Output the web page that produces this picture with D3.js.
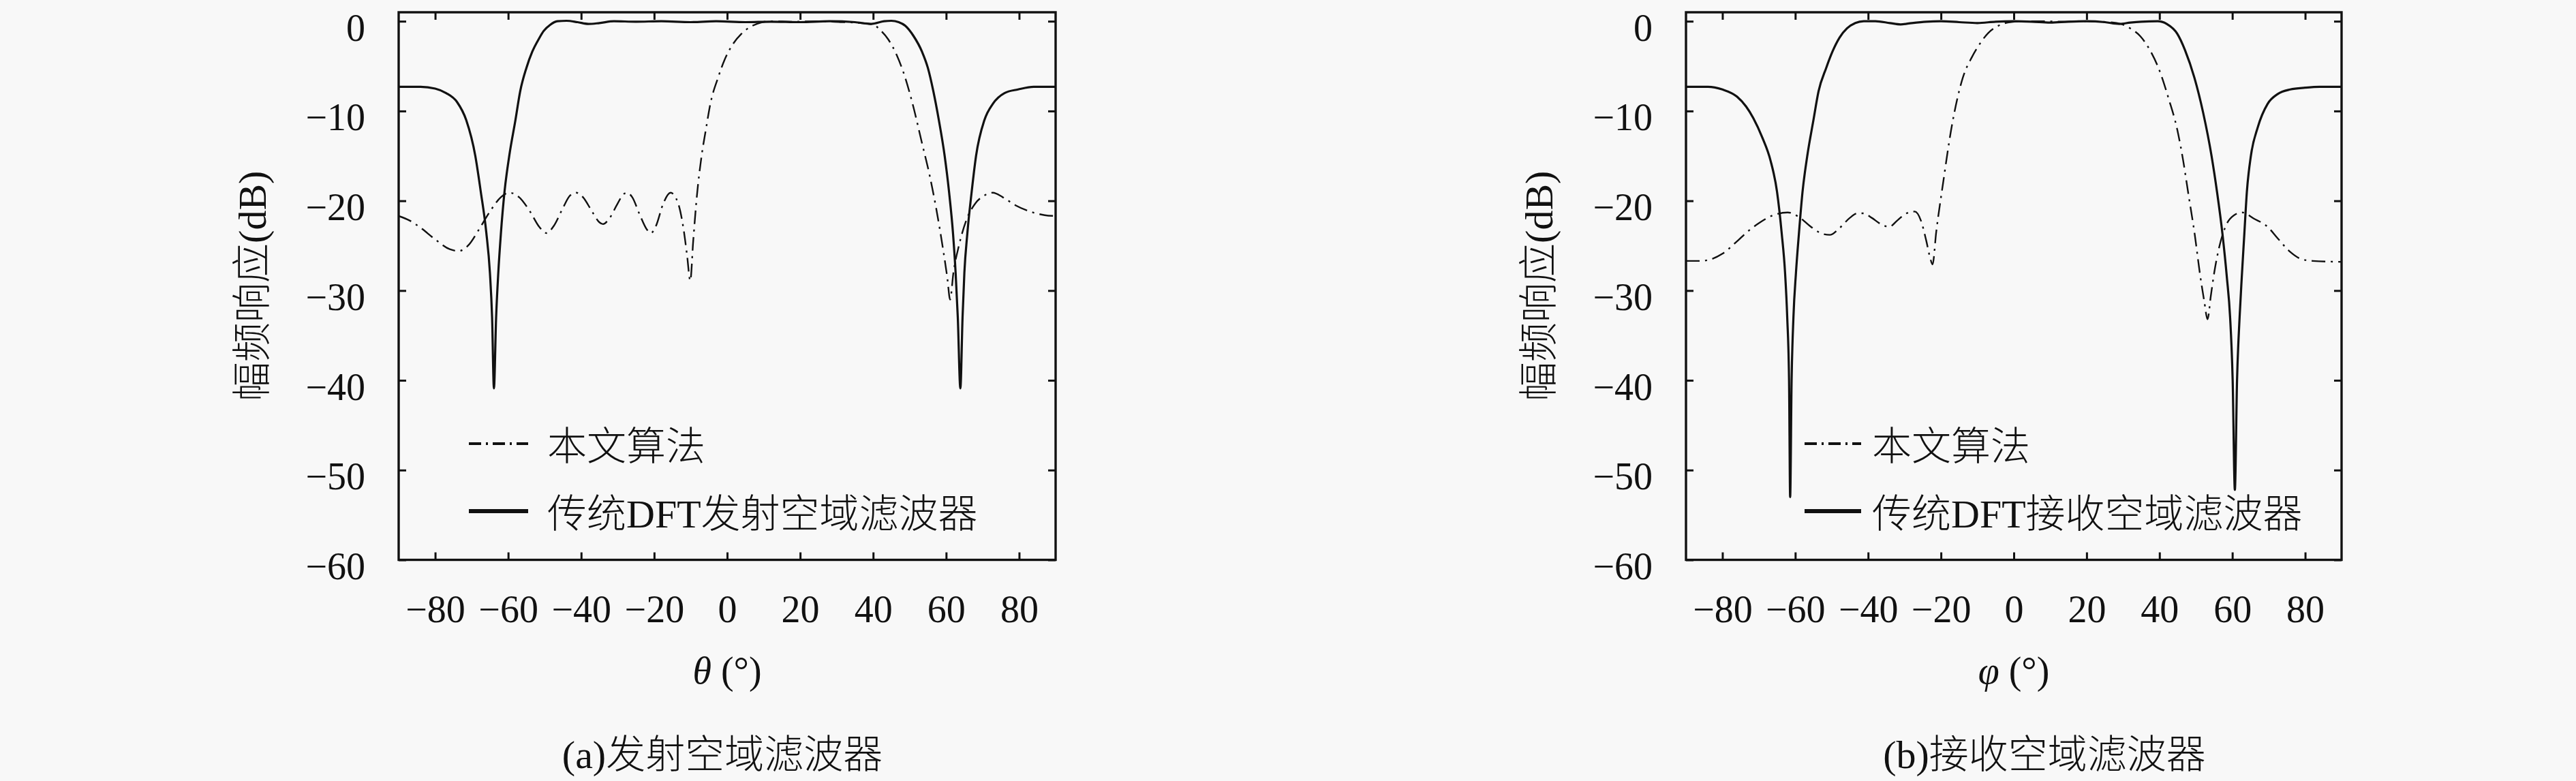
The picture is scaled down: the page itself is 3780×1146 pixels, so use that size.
<!DOCTYPE html>
<html>
<head>
<meta charset="utf-8">
<script src="https://cdn.jsdelivr.net/npm/d3@7/dist/d3.min.js"></script>
<style type="text/css">
    body{ margin: 0; background: #f8f8f8; }
    svg{ display: block; background: #f8f8f8; }
    text{ fill: #111; }
    .tick text{ font-family: "Liberation Serif", serif; font-size: 56px; }
    .tick line{ stroke: #111; stroke-width: 3; }
    .cjk{ font-family: "Liberation Serif", "Noto Sans CJK SC", serif; font-size: 58px; font-weight: 300; }
    .axt{ font-family: "Liberation Serif", serif; font-size: 56px; }
</style>
</head>
<body>
<script type="text/javascript">
var width = 3780,
    height = 1146;

var xTicks = [-80, -60, -40, -20, 0, 20, 40, 60, 80];
var yTicks = [0, -10, -20, -30, -40, -50, -60];

// (a) transmit filter: [angle, dB]
var txProposed = [
    [-90,-21.7],[-87,-22.2],[-84,-23.0],[-80,-24.3],[-76,-25.4],[-73.6,-25.6],[-71,-25.0],[-68,-23.2],
    [-65,-21.2],[-62,-19.6],[-59.7,-19.1],[-57,-19.6],[-54,-21.2],[-51.5,-22.9],[-49.5,-23.6],[-47.5,-22.8],
    [-45,-20.8],[-43,-19.4],[-41.3,-19.1],[-39.5,-19.6],[-37,-21.2],[-35,-22.4],[-34,-22.6],[-32.5,-22.1],
    [-30,-20.3],[-28.5,-19.3],[-27.4,-19.1],[-26,-19.6],[-24,-21.5],[-22,-23.2],[-20.9,-23.6],[-19.5,-22.8],
    [-17.5,-20.3],[-15.5,-19.1],[-13.5,-20.2],[-12,-23],[-11,-26],[-10.1,-28.9],[-9.3,-24.5],[-8.3,-19.5],
    [-7,-15],[-5.8,-12],[-4.6,-9.2],[-2.5,-6.3],[-0.7,-4.3],[1.5,-2.6],[3.9,-1.4],[6.5,-0.6],[9.3,-0.15],
    [12,0],[18,-0.05],[25,0],[31,-0.1],[35,-0.15],[38,-0.25],[40.2,-0.4],[42,-1.0],[44.1,-2.0],[46.5,-3.8],
    [48.8,-6.3],[51,-9.5],[53.4,-13.6],[55.5,-17.2],[57.3,-20.9],[59.2,-25.5],[60.3,-28.5],[61.1,-31.0],
    [62,-28],[63.5,-25],[65.5,-22.2],[68,-20.3],[70.5,-19.4],[72.8,-19.1],[75.5,-19.6],[79,-20.5],
    [83,-21.2],[87,-21.6],[90,-21.7]
];
var txDft = [
    [-90,-7.3],[-84,-7.3],[-80,-7.5],[-77,-8.0],[-74,-9.0],[-71.5,-11],[-69,-15],[-67.5,-19],[-66,-23.5],
    [-65,-28],[-64.4,-33],[-63.9,-40.9],[-63.3,-33],[-62.7,-28],[-62,-23.7],[-61,-19],[-59.7,-15],[-58,-11],
    [-56.7,-7.8],[-55,-5.2],[-53.4,-3.4],[-51.5,-1.9],[-50.3,-1.1],[-48.5,-0.4],[-46.5,0],[-44,0.05],
    [-41,-0.1],[-38,-0.3],[-35,-0.2],[-31,0],[-25,-0.05],[-18,0],[-10,-0.1],[-3,0],[5,-0.1],[12,-0.05],
    [20,-0.1],[28,0],[35,-0.1],[39.5,-0.3],[43,0],[45,0.05],[47,-0.1],[48.8,-0.5],[51,-1.6],[53.4,-3.4],
    [55,-5.2],[56.5,-7.8],[58,-11],[59.6,-15],[60.8,-19],[61.9,-23.7],[62.6,-28],[63.2,-33],[63.9,-40.9],
    [64.5,-33],[65,-28],[65.8,-23.7],[67,-19],[68.2,-15],[70.5,-11],[72.8,-9.2],[76,-8.0],[79.7,-7.6],
    [84,-7.3],[90,-7.3]
];

// (b) receive filter: [angle, dB]
var rxProposed = [
    [-90,-26.7],[-86,-26.7],[-83.9,-26.6],[-80,-25.9],[-76.2,-24.6],[-73,-23.4],[-70,-22.5],[-66,-21.6],
    [-62.1,-21.3],[-59,-21.8],[-56,-22.8],[-53,-23.6],[-50.5,-23.8],[-48,-23.1],[-45,-21.9],[-43,-21.4],
    [-41.2,-21.4],[-39,-21.9],[-36.5,-22.6],[-34.2,-22.9],[-32,-22.2],[-29.5,-21.4],[-27.2,-21.2],
    [-25.5,-22.2],[-24,-24.5],[-23,-26.3],[-22.3,-27.1],[-21.3,-23.5],[-19.4,-18.0],[-17.2,-12.1],
    [-14,-6.3],[-11.5,-4.0],[-9.3,-2.5],[-7,-1.3],[-4.7,-0.6],[-1.7,-0.15],[2,0],[8,0],[14,-0.05],[20,0],
    [26,-0.1],[29.4,-0.3],[32,-0.8],[34.8,-1.7],[37.5,-3.3],[40.2,-5.7],[42.5,-8.6],[44.9,-12.1],
    [46.5,-15.5],[48,-19.4],[49.7,-23.8],[51.1,-28.1],[52.3,-31.2],[53.2,-33.2],[54.1,-30.6],[55,-28.1],
    [56.5,-25.0],[58.1,-22.9],[60.5,-21.6],[62.7,-21.3],[66,-22.0],[69.7,-22.9],[72.5,-24.2],[75.9,-25.7],
    [79,-26.5],[82.1,-26.7],[90,-26.8]
];
var rxDft = [
    [-90,-7.3],[-84,-7.3],[-80,-7.6],[-76,-8.4],[-73.5,-9.5],[-71.5,-10.8],[-69,-13],[-66.8,-15.5],
    [-65,-19],[-63.7,-23.7],[-62.8,-28],[-62.2,-33],[-61.7,-40],[-61.4,-53],[-61.0,-40],[-60.5,-33],
    [-59.8,-28],[-59.0,-23.7],[-58,-19],[-56.7,-15],[-55,-11],[-53.6,-7.8],[-51.5,-5.2],[-49.8,-3.4],
    [-47.8,-1.8],[-45.8,-0.8],[-43.5,-0.2],[-41.2,0],[-38,0],[-34,-0.2],[-31.1,-0.35],[-28,-0.2],
    [-24,-0.05],[-20,0],[-15,-0.1],[-10,-0.2],[-5,-0.05],[0,0],[5,-0.05],[10,-0.15],[15,-0.05],[20,0],
    [25,-0.1],[29,-0.3],[32,-0.15],[35,-0.05],[39.5,0],[42,-0.3],[44.9,-1.4],[47,-3.2],[49.6,-6.3],
    [52,-10.2],[54.3,-15],[55.8,-19],[57.3,-23.7],[58.5,-28.5],[59.4,-33],[60.1,-40],[60.7,-52.2],
    [61.3,-40],[62,-33],[62.6,-28.5],[63.3,-23.7],[64,-19],[65.1,-15],[67,-11.8],[69.7,-9.2],[72.5,-8.1],
    [75.9,-7.6],[80,-7.4],[84,-7.3],[90,-7.3]
];

var seriesNames = ['本文算法', '传统DFT发射空域滤波器', '传统DFT接收空域滤波器'];
var yLabel = '幅频响应(dB)';

var panels = [
    { left: 585, right: 1549, proposed: txProposed, dft: txDft, dftName: seriesNames[1],
      xVar: 'θ', caption: '(a)发射空域滤波器', captionX: 1060, labelX: 370, legendX: 688, legendW: 87, legendGap: 28 },
    { left: 2474, right: 3436, proposed: rxProposed, dft: rxDft, dftName: seriesNames[2],
      xVar: 'φ', caption: '(b)接收空域滤波器', captionX: 3000, labelX: 2258, legendX: 2648, legendW: 83, legendGap: 16 }
];

var plotTop = 18, plotBottom = 821.5;

var svg = d3.select('body')
    .append('svg')
        .attr('width', width)
        .attr('height', height);

panels.forEach(function(p){
    var x = d3.scaleLinear().domain([-90, 90]).range([p.left, p.right]);
    var y = d3.scaleLinear().domain([-60, 1]).range([plotBottom, plotTop]);
    var g = svg.append('g');

    // axes, ticks pointing inward
    g.append('g')
        .attr('transform', 'translate(0,' + plotBottom + ')')
        .call(d3.axisBottom(x).tickValues(xTicks).tickSize(-11).tickSizeOuter(0).tickPadding(52))
        .call(function(a){ a.select('.domain').remove(); })
        .selectAll('text').attr('dy', '0.71em');
    g.append('g')
        .attr('transform', 'translate(0,' + plotTop + ')')
        .call(d3.axisTop(x).tickValues(xTicks).tickSize(-11).tickSizeOuter(0).tickFormat(''))
        .call(function(a){ a.select('.domain').remove(); });
    g.append('g')
        .attr('transform', 'translate(' + p.left + ',0)')
        .call(d3.axisLeft(y).tickValues(yTicks).tickSize(-11).tickSizeOuter(0).tickPadding(49))
        .call(function(a){ a.select('.domain').remove(); })
        .selectAll('text').attr('dy', '0.5em');
    g.append('g')
        .attr('transform', 'translate(' + p.right + ',0)')
        .call(d3.axisRight(y).tickValues(yTicks).tickSize(-11).tickSizeOuter(0).tickFormat(''))
        .call(function(a){ a.select('.domain').remove(); });

    var line = d3.line()
        .x(function(d){ return x(d[0]); })
        .y(function(d){ return y(d[1]); })
        .curve(d3.curveMonotoneX);

    g.append('path')
        .datum(p.dft)
        .attr('d', line)
        .attr('fill', 'none')
        .attr('stroke', '#111')
        .attr('stroke-width', 3.2);
    g.append('path')
        .datum(p.proposed)
        .attr('d', line)
        .attr('fill', 'none')
        .attr('stroke', '#111')
        .attr('stroke-width', 2.4)
        .attr('stroke-dasharray', '20,8,3,8');

    // frame
    g.append('rect')
        .attr('x', p.left)
        .attr('y', plotTop)
        .attr('width', p.right - p.left)
        .attr('height', plotBottom - plotTop)
        .attr('fill', 'none')
        .attr('stroke', '#111')
        .attr('stroke-width', 3.4);

    // legend
    var legend = [
        { name: seriesNames[0], y: 651, dash: '18,7,3,7', w: 4 },
        { name: p.dftName, y: 750, dash: null, w: 6 }
    ];
    legend.forEach(function(l){
        g.append('line')
            .attr('x1', p.legendX)
            .attr('x2', p.legendX + p.legendW)
            .attr('y1', l.y)
            .attr('y2', l.y)
            .attr('stroke', '#111')
            .attr('stroke-width', l.w)
            .attr('stroke-dasharray', l.dash);
        g.append('text')
            .attr('class', 'cjk')
            .attr('x', p.legendX + p.legendW + p.legendGap)
            .attr('y', l.y)
            .attr('dy', '0.41em')
            .text(l.name);
    });

    // axis titles
    var xt = g.append('text')
        .attr('class', 'axt')
        .attr('x', (p.left + p.right) / 2)
        .attr('y', 1003)
        .attr('text-anchor', 'middle');
    xt.append('tspan').attr('font-style', 'italic').text(p.xVar);
    xt.append('tspan').text(' (°)');

    g.append('text')
        .attr('class', 'cjk')
        .attr('transform', 'translate(' + (p.labelX + 20) + ',' + (plotTop + plotBottom) / 2 + ') rotate(-90)')
        .attr('text-anchor', 'middle')
        .text(yLabel);

    g.append('text')
        .attr('class', 'cjk')
        .attr('x', p.captionX)
        .attr('y', 1127)
        .attr('text-anchor', 'middle')
        .text(p.caption);
});
</script>
</body>
</html>
